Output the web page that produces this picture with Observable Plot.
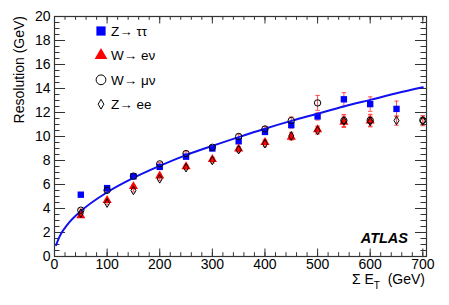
<!DOCTYPE html>
<html><head><meta charset="utf-8">
<script src="https://cdn.jsdelivr.net/npm/d3@7"></script>
<script src="https://cdn.jsdelivr.net/npm/@observablehq/plot@0.6"></script>
<style>body{margin:0;background:#fff;} svg{display:block;}</style>
</head><body><div id="chart"></div>
<script>
// ---- data ----
const etBins = [50, 100, 150, 200, 250, 300, 350, 400, 450, 500, 550, 600, 650, 700];
const zTauTau = [5.15, 5.7, 6.68, 7.47, 8.32, 9.0, 9.6, 10.38, 10.95, 11.67, 13.1, 12.7, 12.3, null];
const wENu    = [3.4, 4.68, 5.84, 6.72, 7.5, 8.1, 8.97, 9.52, 9.95, 10.57, 11.2, 11.3, null, null];
const wMuNu   = [3.86, 5.52, 6.7, 7.72, 8.58, 9.1, 10.0, 10.63, 11.33, 12.8, 11.33, 11.35, null, 11.35];
const zEE     = [3.6, 4.45, 5.5, 6.47, 7.4, 8.0, 8.9, 9.4, 10.05, 10.5, 11.3, 11.25, 11.33, 11.3];
const errZTauTau = [0.1, 0.1, 0.1, 0.1, 0.12, 0.15, 0.18, 0.2, 0.25, 0.3, 0.55, 0.6, 0.65, null];
const errWENu    = [0.1, 0.1, 0.1, 0.12, 0.15, 0.15, 0.2, 0.2, 0.25, 0.3, 0.45, 0.5, null, null];
const errWMuNu   = [0.1, 0.1, 0.1, 0.12, 0.15, 0.15, 0.2, 0.2, 0.3, 0.62, 0.5, 0.5, null, 0.4];
const errZEE     = [0.1, 0.1, 0.12, 0.12, 0.15, 0.2, 0.2, 0.25, 0.3, 0.3, 0.5, 0.4, 0.4, 0.4];
const fitX = [3, 10, 25, 50, 100, 150, 200, 250, 300, 350, 400, 450, 500, 550, 600, 650, 700];
const fitY = [0.95, 1.7, 2.68, 3.78, 5.35, 6.55, 7.55, 8.45, 9.22, 9.95, 10.65, 11.3, 11.9, 12.5, 13.05, 13.6, 14.1];
const seriesNames = ["Z\u2192 \u03c4\u03c4", "W\u2192 e\u03bd", "W\u2192 \u03bc\u03bd", "Z\u2192 ee"];
const xMajor = [0, 100, 200, 300, 400, 500, 600, 700];
const xMinor = d3.range(0, 701, 20);
const yMajor = [0, 2, 4, 6, 8, 10, 12, 14, 16, 18, 20];
const yMinor = d3.range(0, 20.01, 0.5);

// ---- build tables ----
function rows(vals, errs, name) {
  return etBins.map((x, i) => ({x, y: vals[i], err: errs[i], name})).filter(d => d.y != null);
}
const tTau = rows(zTauTau, errZTauTau, seriesNames[0]);
const tEnu = rows(wENu, errWENu, seriesNames[1]);
const tMunu = rows(wMuNu, errWMuNu, seriesNames[2]);
const tEE = rows(zEE, errZEE, seriesNames[3]);
const allRows = [...tTau, ...tEnu, ...tMunu, ...tEE];
const fit = fitX.map((x, i) => ({x, y: fitY[i]}));

const W = 449, H = 305, mL = 54, mR = 23, mT = 16, mB = 49;
const pw = W - mL - mR, ph = H - mT - mB;
const font = "Liberation Sans, Arial, Helvetica, sans-serif";
const frameCol = "#333";
const errCol = "#ff5050";
const hbar = {draw(ctx, size) { const w = 2.2; ctx.moveTo(-w, 0); ctx.lineTo(w, 0); }};

const plot = Plot.plot({
  width: W, height: H,
  marginLeft: mL, marginRight: mR, marginTop: mT, marginBottom: mB,
  style: {fontFamily: font, background: "#fff"},
  x: {domain: [0, 707]},
  y: {domain: [0, 20]},
  marks: [
    // ticks (inward, on all four sides)
    Plot.ruleX(xMajor, {x: d => d, insetTop: ph - 7.5, stroke: frameCol}),
    Plot.ruleX(xMinor, {x: d => d, insetTop: ph - 3.8, stroke: frameCol}),
    Plot.ruleX(xMajor, {x: d => d, insetBottom: ph - 7.5, stroke: frameCol}),
    Plot.ruleX(xMinor, {x: d => d, insetBottom: ph - 3.8, stroke: frameCol}),
    Plot.ruleY(yMajor, {y: d => d, insetRight: pw - 11, stroke: frameCol}),
    Plot.ruleY(yMinor, {y: d => d, insetRight: pw - 5.5, stroke: frameCol}),
    Plot.ruleY(yMajor, {y: d => d, insetLeft: pw - 11, stroke: frameCol}),
    Plot.ruleY(yMinor, {y: d => d, insetLeft: pw - 5.5, stroke: frameCol}),
    Plot.axisX({ticks: xMajor, tickSize: 0, tickPadding: 3, fontSize: 14, fontFamily: font, label: null, fill: "#000"}),
    Plot.axisY({ticks: yMajor, tickSize: 0, tickPadding: 4, fontSize: 14, fontFamily: font, label: null, fill: "#000"}),
    // error bars
    Plot.ruleX(allRows, {x: "x", y1: d => d.y - d.err, y2: d => d.y + d.err, stroke: errCol, strokeWidth: 1}),
    Plot.dot(allRows, {x: "x", y: d => d.y + d.err, symbol: hbar, r: 2, stroke: errCol, strokeWidth: 1}),
    Plot.dot(allRows, {x: "x", y: d => d.y - d.err, symbol: hbar, r: 2, stroke: errCol, strokeWidth: 1}),
    // markers
    Plot.dot(tTau, {x: "x", y: "y", symbol: "square", r: 3.6, fill: "#0000ff", stroke: "none"}),
    Plot.line(fit, {x: "x", y: "y", curve: "monotone-x", stroke: "#1010f0", strokeWidth: 2}),
    Plot.dot(tEnu, {x: "x", y: "y", symbol: "triangle", r: 3.4, fill: "#ff0000", stroke: "none"}),
    Plot.dot(tMunu, {x: "x", y: "y", symbol: "circle", r: 3.2, fill: "none", stroke: "#000", strokeWidth: 1}),
    Plot.dot(tEE, {x: "x", y: "y", symbol: "diamond", r: 2.6, fill: "none", stroke: "#000", strokeWidth: 1}),
    Plot.frame({stroke: frameCol, strokeWidth: 1.2})
  ]
});

const svg = d3.select(plot);
// legend
const legend = [
  {sym: d3.symbolSquare, size: 85, fill: "#0000ff", stroke: "none"},
  {sym: d3.symbolTriangle, size: 70, fill: "#ff0000", stroke: "none"},
  {sym: d3.symbolCircle, size: 75, fill: "none", stroke: "#000"},
  {sym: d3.symbolDiamond, size: 28, fill: "none", stroke: "#000"}
];
legend.forEach((l, i) => {
  const cy = 31 + i * 24.4;
  svg.append("path").attr("d", d3.symbol(l.sym, l.size)()).attr("transform", `translate(101,${cy})`)
    .attr("fill", l.fill).attr("stroke", l.stroke).attr("stroke-width", 1);
  svg.append("text").attr("x", 111).attr("y", cy + 5).attr("text-anchor", "start").attr("font-family", font)
    .attr("font-size", 13.5).attr("fill", "#000").text(seriesNames[i]);
});
// ATLAS label
svg.append("text").attr("x", 408).attr("y", 243).attr("text-anchor", "end").attr("font-family", font)
  .attr("font-size", 14.5).attr("font-weight", "bold").attr("font-style", "italic").attr("fill", "#000").text("ATLAS");
// axis titles
const xt = svg.append("text").attr("x", 425).attr("y", 284).attr("text-anchor", "end")
  .attr("font-family", font).attr("font-size", 14).attr("fill", "#000").style("white-space", "pre");
xt.append("tspan").text("\u03a3 E");
xt.append("tspan").attr("dy", 5).attr("font-size", 10).text("T");
xt.append("tspan").attr("dy", -5).text("  (GeV)");
svg.append("text").attr("transform", "translate(24,16) rotate(-90)").attr("text-anchor", "end")
  .attr("font-family", font).attr("font-size", 14).attr("fill", "#000").text("Resolution (GeV)");

document.getElementById("chart").appendChild(plot);
</script></body></html>
